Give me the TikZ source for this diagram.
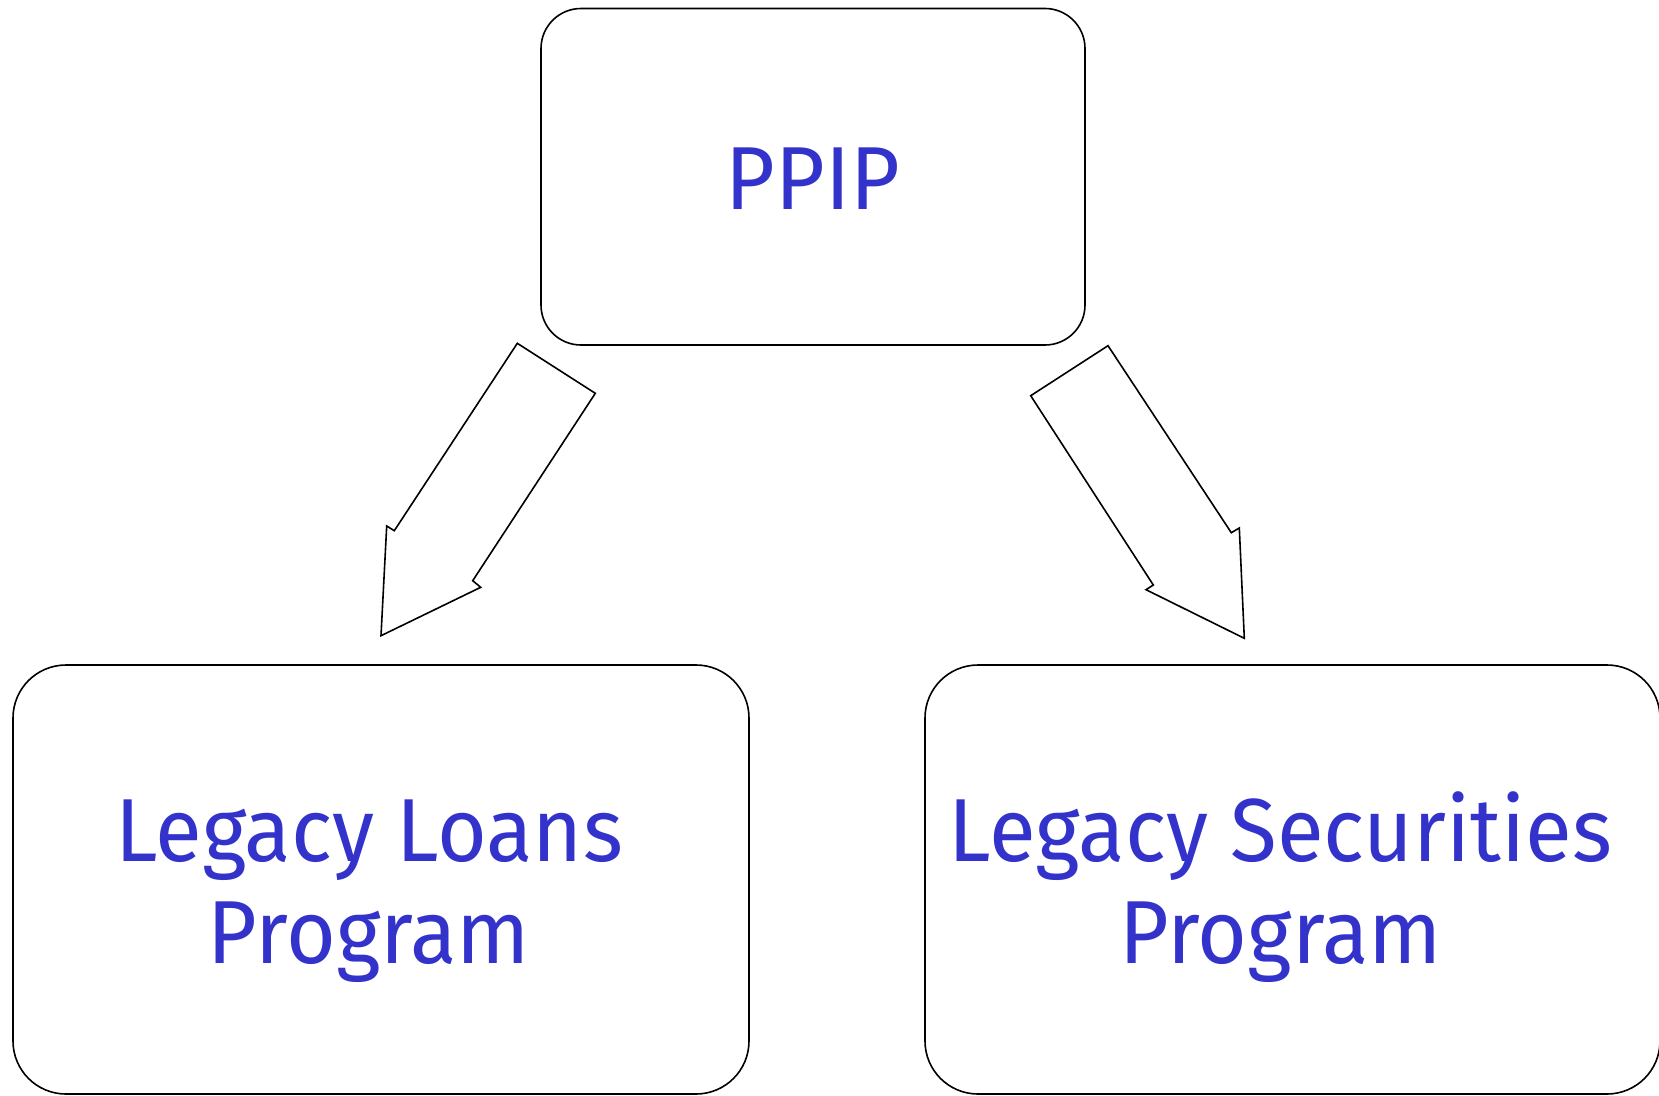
\documentclass[tikz,border=0pt]{standalone}
\usepackage{fontspec}
\newfontfamily\labelfont[FakeStretch=0.955]{Fira Sans}
\definecolor{labelblue}{RGB}{51,51,204}
\begin{document}
\begin{tikzpicture}[x=1pt,y=-1pt,
  box/.style={draw=black,line width=1.6pt,rounded corners=#1,fill=white,inner sep=0pt},
  label/.style={text=labelblue,inner sep=0pt,anchor=base,
    font=\labelfont\fontsize{89.5}{101.7}\selectfont},
  blockarrow/.style={draw=black,line width=1.6pt,fill=white,line join=miter}]
\useasboundingbox (0,0) rectangle (1659,1095);

% boxes
\node[box=40pt,minimum width=544pt,minimum height=336.5pt] (ppip) at (813,176.75) {};
\node[box=53pt,minimum width=736pt,minimum height=429pt] (loans) at (381,879.5) {};
\node[box=53pt,minimum width=735pt,minimum height=429pt] (secs) at (1292.5,879.5) {};

% texts
\node[label] (ppiptext) at (813,209.5) {PPIP};
\node[label] (loans1) at (369,861.7) {Legacy Loans};
\node[label] (loans2) at (369,963.3) {Program};
\node[label] (secs1) at (1280.5,861.7) {Legacy Securities};
\node[label] (secs2) at (1280.5,963.3) {Program};

% block arrow from PPIP to the loans program
\coordinate (la1) at (517.3,343.3);
\coordinate (la2) at (595.3,393.3);
\coordinate (la3) at (472.7,580.7);
\coordinate (la4) at (480.7,587.3);
\coordinate (la5) at (381,635.7);
\coordinate (la6) at (386.7,526);
\coordinate (la7) at (394.3,530.7);
\draw[blockarrow] (la1) -- (la2) -- (la3) -- (la4) -- (la5) -- (la6) -- (la7) -- cycle;

% block arrow from PPIP to the securities program
\coordinate (ra1) at (1108,345.7);
\coordinate (ra2) at (1030.7,395.7);
\coordinate (ra3) at (1153.3,585);
\coordinate (ra4) at (1146,589.7);
\coordinate (ra5) at (1244.3,638.3);
\coordinate (ra6) at (1239.3,528);
\coordinate (ra7) at (1231.3,532.7);
\draw[blockarrow] (ra1) -- (ra2) -- (ra3) -- (ra4) -- (ra5) -- (ra6) -- (ra7) -- cycle;
\end{tikzpicture}
\end{document}
